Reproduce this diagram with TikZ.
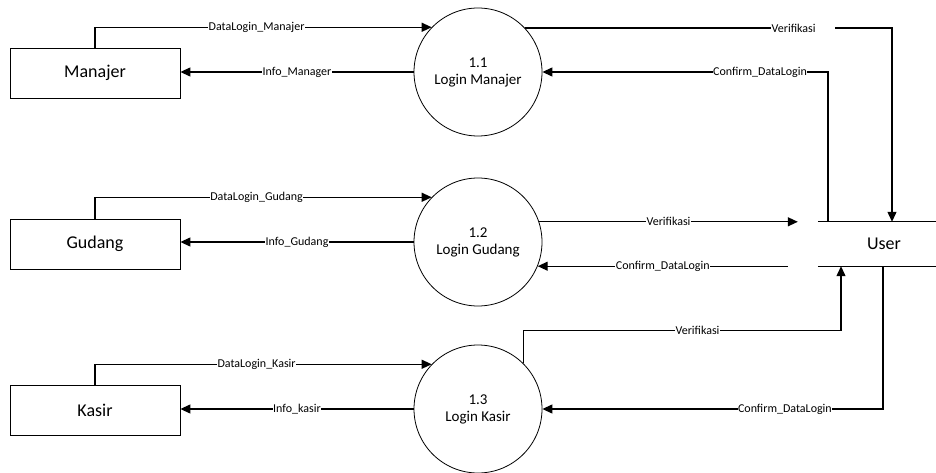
\documentclass[tikz,border=0pt]{standalone}
\usepackage{fontspec}
\setmainfont{Carlito}
\usepackage{tikz}
\usetikzlibrary{arrows.meta}

\begin{document}
\begin{tikzpicture}[
    x=1pt, y=-1pt,      % Unidades en puntos, eje y hacia abajo
    entidad/.style={draw, line width=0.8pt, minimum width=170pt, minimum height=50pt,
        font=\fontsize{18}{21}\selectfont}, % Entidad externa (rectangulo)
    proceso/.style={draw, circle, line width=0.8pt, minimum size=128pt, align=center,
        font=\fontsize{15}{17}\selectfont}, % Proceso (circulo)
    flujo/.style={-{Triangle[length=10pt,width=9pt]}, line width=1.2pt}, % Flujo de datos
    linea/.style={line width=1.2pt},        % Lineas del almacen
    etiqueta/.style={fill=white, inner sep=0.5pt, font=\fontsize{12}{14}\selectfont},
]

% Marco de la figura
\useasboundingbox (0,0) rectangle (936,473);

% --- Entidades externas ---
\node[entidad] (manajer) at (95,73) {Manajer};
\node[entidad] (gudang) at (95,244) {Gudang};
\node[entidad] (kasir) at (95,410) {Kasir};

% --- Procesos ---
\node[proceso] (p1) at (478,72) {1.1\\Login Manajer};
\node[proceso] (p2) at (478,242) {1.2\\Login Gudang};
\node[proceso] (p3) at (478,409) {1.3\\Login Kasir};

% --- Almacen de datos User ---
\node[minimum width=132pt, minimum height=44pt, font=\fontsize{18}{21}\selectfont] (user) at (884,244) {User};
\draw[linea] (user.north west) -- (user.north east);
\draw[linea] (user.south west) -- (user.south east);

% --- Flujos de Manajer ---
\draw[flujo] (manajer.north) |- (p1.136.6) node[etiqueta, pos=0.74] {DataLogin\_Manajer};
\draw[flujo] (p1.west) -- (p1.west -| manajer.east) node[etiqueta, midway] {Info\_Manager};
\draw[flujo] (p1.43.4) -| ([xshift=8pt]user.north) node[etiqueta, pos=0.379, text width=63pt] {Verifikasi};
\draw[flujo] ([xshift=-56pt]user.north) |- (p1.east) node[etiqueta, pos=0.619] {Confirm\_DataLogin};

% --- Flujos de Gudang ---
\coordinate (v2) at ([xshift=-20pt]user.north west);
\coordinate (c2) at ([xshift=-30pt]user.south west);
\draw[flujo] (gudang.north) |- (p2.136.6) node[etiqueta, pos=0.74] {DataLogin\_Gudang};
\draw[flujo] (p2.west) -- (p2.west -| gudang.east) node[etiqueta, midway] {Info\_Gudang};
\draw[flujo] (v2 -| p2.18.2) -- (v2) node[etiqueta, midway] {Verifikasi};
\draw[flujo] (c2) -- (c2 -| p2.-22) node[etiqueta, midway] {Confirm\_DataLogin};

% --- Flujos de Kasir ---
\draw[flujo] (kasir.north) |- (p3.136.6) node[etiqueta, pos=0.74] {DataLogin\_Kasir};
\draw[flujo] (p3.west) -- (p3.west -| kasir.east) node[etiqueta, midway] {Info\_kasir};
\draw[flujo] (p3.45.3) -- ++(0,-33) -| ([xshift=-43pt]user.south) node[etiqueta, pos=0.274] {Verifikasi};
\draw[flujo] ([xshift=-1pt]user.south) |- (p3.east) node[etiqueta, pos=0.644] {Confirm\_DataLogin};

\end{tikzpicture}
\end{document}
